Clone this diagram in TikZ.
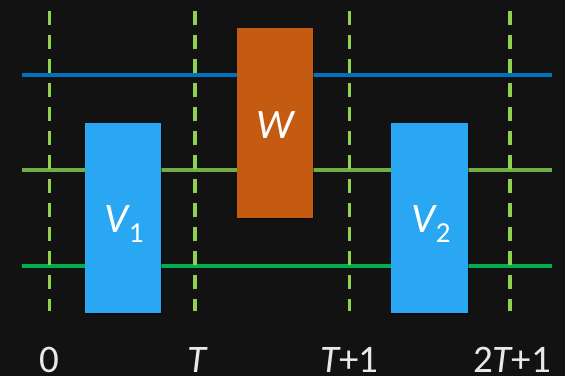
\documentclass[tikz,border=0pt]{standalone}
\usepackage{fontspec}
\setmainfont{Carlito}
\definecolor{bg}{RGB}{18,18,18}
\definecolor{vblue}{RGB}{42,167,242}
\definecolor{worange}{RGB}{197,90,17}
\definecolor{lblue}{RGB}{0,112,192}
\definecolor{lgreen}{RGB}{112,173,71}
\definecolor{dgreen}{RGB}{0,176,80}
\definecolor{dashgreen}{RGB}{146,208,80}
\definecolor{labgray}{RGB}{232,232,232}
\newcommand{\subsc}[1]{\kern0.5pt\raisebox{-0.26em}{\upshape\fontsize{29}{29}\selectfont #1}}
\begin{document}
\begin{tikzpicture}[x=1pt,y=-1pt,
  hline/.style={line width=4pt},
  vdash/.style={draw=dashgreen,line width=3.4pt,dash pattern=on 14pt off 10pt},
  gatebox/.style={draw=none,inner sep=0pt,anchor=north west},
  boxlabel/.style={text=white,font=\fontsize{42}{42}\selectfont\itshape,anchor=base,inner sep=0pt},
  axlabel/.style={text=labgray,font=\fontsize{39}{39}\selectfont,anchor=base,inner sep=0pt}]
\fill[bg] (0,0) rectangle (565,376);
\useasboundingbox (0,0) rectangle (565,376);
% wires
\coordinate (b1) at (22,75);  \coordinate (b2) at (552,75);
\coordinate (g1) at (22,170); \coordinate (g2) at (552,170);
\coordinate (d1) at (22,265.5); \coordinate (d2) at (552,265.5);
\draw[hline,lblue] (b1) -- (b2);
\draw[hline,lgreen] (g1) -- (g2);
\draw[hline,dgreen] (d1) -- (d2);
% time markers
\foreach \n/\x in {t0/49.3,t1/195,t2/349.3,t3/510}{
  \coordinate (\n top) at (\x,11);
  \coordinate (\n bot) at (\x,311);
  \draw[vdash] (\n top) -- (\n bot);
}
% boxes
\fill[black,opacity=0.45] (86,124.5) rectangle (162,314.5);
\fill[black,opacity=0.45] (238,28.5) rectangle (314,218.5);
\fill[black,opacity=0.45] (392,124.5) rectangle (469,314.5);
\node[gatebox,fill=vblue,minimum width=76pt,minimum height=190pt] (v1) at (85,123) {};
\node[gatebox,fill=worange,minimum width=76pt,minimum height=190pt] (w) at (237,27.5) {};
\node[gatebox,fill=vblue,minimum width=77pt,minimum height=190pt] (v2) at (391,123) {};
\node[boxlabel] (v1l) at (124,232) {V\subsc{1}};
\node[boxlabel] (wl) at (275,138) {W};
\node[boxlabel] (v2l) at (431,232) {V\subsc{2}};
% axis labels
\node[axlabel] (l0) at (49.5,372) {0};
\node[axlabel] (l1) at (197,372) {\itshape T};
\node[axlabel] (l2) at (349.5,372) {{\itshape T}+1};
\node[axlabel] (l3) at (512,372) {2{\itshape T}+1};
\end{tikzpicture}
\end{document}
